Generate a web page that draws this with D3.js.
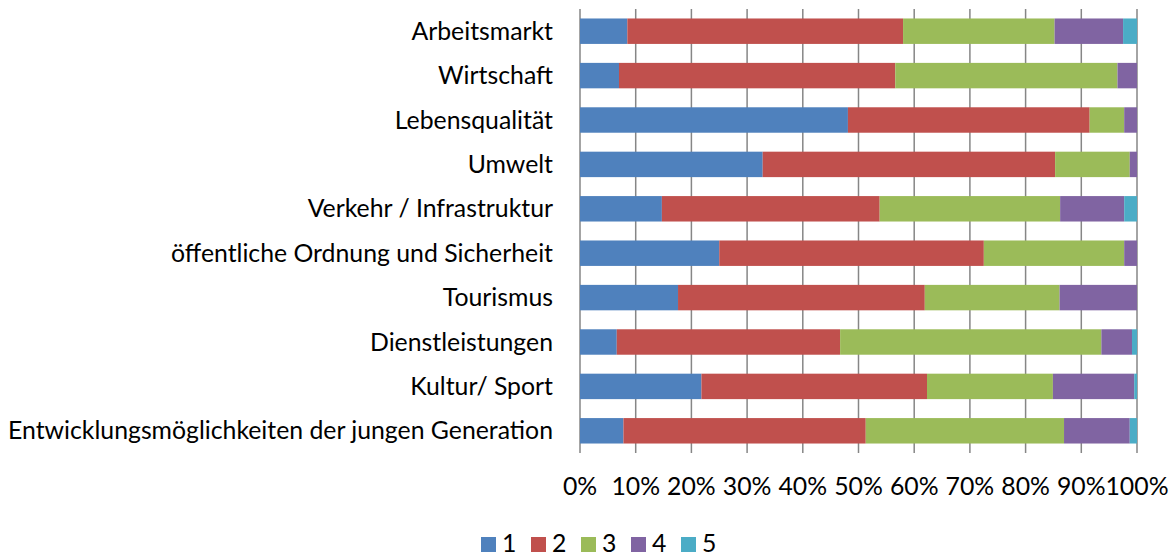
<!DOCTYPE html>
<html>
<head>
<meta charset="utf-8">
<script src="https://cdn.jsdelivr.net/npm/d3@7"></script>
<style>
  body { margin: 0; background: #fff; }
  text { font-family: Lato, "Open Sans", sans-serif; fill: #000; }
</style>
</head>
<body>
<svg id="chart" width="1173" height="556"></svg>
<script>
// categories, top to bottom
var categories = [
  "Arbeitsmarkt",
  "Wirtschaft",
  "Lebensqualität",
  "Umwelt",
  "Verkehr / Infrastruktur",
  "öffentliche Ordnung und Sicherheit",
  "Tourismus",
  "Dienstleistungen",
  "Kultur/ Sport",
  "Entwicklungsmöglichkeiten der jungen Generation"
];

var seriesNames = ["1", "2", "3", "4", "5"];

// shares per category (percent)
var s1 = [8.5, 7.0, 48.1, 32.8, 14.7, 25.0, 17.6, 6.6, 21.8, 7.8];
var s2 = [49.5, 49.6, 43.4, 52.5, 39.1, 47.5, 44.3, 40.1, 40.5, 43.5];
var s3 = [27.2, 39.9, 6.2, 13.4, 32.4, 25.2, 24.2, 46.9, 22.6, 35.6];
var s4 = [12.3, 3.5, 2.3, 1.3, 11.5, 2.3, 13.9, 5.5, 14.6, 11.8];
var s5 = [2.5, 0, 0, 0, 2.3, 0, 0, 0.9, 0.5, 1.3];

var tickValues = [0, 10, 20, 30, 40, 50, 60, 70, 80, 90, 100];

var colors = ["#4F81BD", "#C0504D", "#9BBB59", "#8064A2", "#4BACC6"];

var svg = d3.select("#chart");
var margin = { top: 9, left: 580, right: 36, bottom: 103 };
var width = 1173 - margin.left - margin.right;
var height = 556 - margin.top - margin.bottom;

var rows = categories.map(function(c, i) {
  return { cat: c, "1": s1[i], "2": s2[i], "3": s3[i], "4": s4[i], "5": s5[i] };
});
var stacked = d3.stack().keys(seriesNames)(rows);

var x = d3.scaleLinear().domain([0, 100]).range([0, width]);
var y = d3
  .scaleBand()
  .domain(categories)
  .range([0, height])
  .paddingInner(0.427)
  .paddingOuter(0.2135);

var color = d3.scaleOrdinal().domain(seriesNames).range(colors);

var g = svg
  .append("g")
  .attr("transform", "translate(" + margin.left + "," + margin.top + ")");

// gridlines
g.selectAll(".grid")
  .data(tickValues)
  .enter()
  .append("line")
  .attr("class", "grid")
  .attr("x1", function(d) { return x(d); })
  .attr("x2", function(d) { return x(d); })
  .attr("y1", 0)
  .attr("y2", height)
  .attr("stroke", "#868686")
  .attr("stroke-width", 1.5);

// bars
g.selectAll(".series")
  .data(stacked)
  .enter()
  .append("g")
  .attr("class", "series")
  .attr("fill", function(d) { return color(d.key); })
  .selectAll("rect")
  .data(function(d) { return d; })
  .enter()
  .append("rect")
  .attr("x", function(d) { return x(d[0]); })
  .attr("width", function(d) { return x(d[1]) - x(d[0]); })
  .attr("y", function(d) { return y(d.data.cat); })
  .attr("height", y.bandwidth());

// fit label font size to the long category label
var fontSize = 20;
var probe = svg.append("text").style("font-size", fontSize + "px")
  .text(categories[categories.length - 1]);
var w = probe.node().getComputedTextLength();
probe.remove();
fontSize = fontSize * 545 / w;

// category labels
g.selectAll(".cat")
  .data(categories)
  .enter()
  .append("text")
  .attr("class", "cat")
  .attr("x", -27)
  .attr("y", function(d) { return y(d) + y.bandwidth() / 2; })
  .attr("dy", "0.35em")
  .attr("text-anchor", "end")
  .style("font-size", fontSize + "px")
  .text(function(d) { return d; });

// x tick labels
g.selectAll(".tick-label")
  .data(tickValues)
  .enter()
  .append("text")
  .attr("class", "tick-label")
  .attr("x", function(d) { return x(d); })
  .attr("y", height + 42)
  .attr("text-anchor", "middle")
  .style("font-size", fontSize + "px")
  .text(function(d) { return d + "%"; });

// legend
var legend = svg
  .append("g")
  .attr("transform", "translate(481,537)");

var item = legend
  .selectAll(".item")
  .data(seriesNames)
  .enter()
  .append("g")
  .attr("class", "item")
  .attr("transform", function(d, i) { return "translate(" + i * 50 + ",0)"; });

item.append("rect")
  .attr("width", 15)
  .attr("height", 15)
  .attr("fill", function(d) { return color(d); });

item.append("text")
  .attr("x", 21)
  .attr("y", 15)
  .style("font-size", fontSize + "px")
  .text(function(d) { return d; });
</script>
</body>
</html>
